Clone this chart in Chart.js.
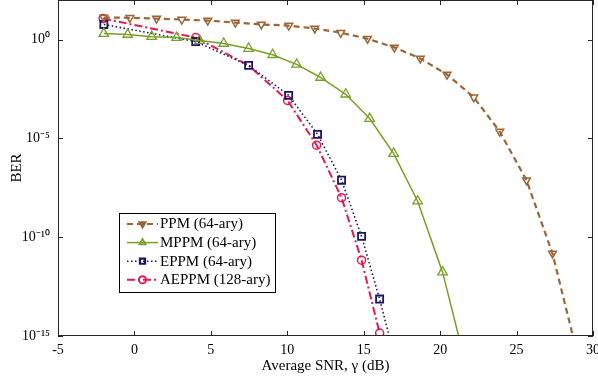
<!DOCTYPE html>
<html><head><meta charset="utf-8">
<script src="https://cdn.jsdelivr.net/npm/chart.js@4/dist/chart.umd.min.js"></script>
<style>html,body{margin:0;padding:0;background:#fff}canvas{display:block}</style>
</head><body>
<canvas id="c" width="598" height="381"></canvas>
<script>
// ---- data ----
const seriesNames = ['PPM (64-ary)', 'MPPM (64-ary)', 'EPPM (64-ary)', 'AEPPM (128-ary)'];

const ppmSNR = [-2, -0.3, 1.45, 3.1, 4.8, 6.6, 8.3, 10.1, 11.8, 13.5, 15.25, 17.0, 18.7, 20.45, 22.2, 23.9, 25.65, 27.35, 29.1];
const ppmBER = [12.9, 12.6, 11.5, 10.2, 9.1, 7.2, 5.8, 5.1, 3.6, 2.2, 1.1, 0.40, 0.11, 1.7e-2, 1.2e-3, 2.2e-5, 7.6e-8, 1.5e-11, 5e-17];

const mppmSNR = [-2, -0.44, 1.13, 2.76, 4.27, 5.84, 7.47, 9.04, 10.61, 12.18, 13.82, 15.39, 16.96, 18.53, 20.16, 21.73];
const mppmBER = [2.0, 1.8, 1.4, 1.26, 0.89, 0.63, 0.35, 0.17, 5.5e-2, 1.2e-2, 1.7e-3, 1.0e-4, 1.7e-6, 6.6e-9, 1.7e-12, 2.5e-17];

const eppmSNR = [-2, 4.01, 7.47, 10.09, 11.98, 13.55, 14.86, 16.04, 17.0];
const eppmBER = [5.8, 0.79, 4.9e-2, 1.5e-3, 1.6e-5, 7.6e-8, 1.1e-10, 7.4e-14, 1e-16];

const aeppmSNR = [-2.05, 4.01, 7.47, 10.02, 11.92, 13.55, 14.86, 16.04];
const aeppmBER = [11.5, 1.26, 4.9e-2, 8.3e-4, 4.5e-6, 1.0e-8, 6.9e-12, 1.4e-15];
const aeppmMarked = [true, true, false, true, true, true, true, true];

const xTickValues = [-5, 0, 5, 10, 15, 20, 25, 30];
const yTickExponents = [0, -5, -10, -15];
const yTickLabels = ['10\u2070', '10\u207B\u2075', '10\u207B\u00B9\u2070', '10\u207B\u00B9\u2075'];

// ---- chart ----
const FONT = "'Liberation Serif', 'Times New Roman', serif";
const zip = (xs, ys) => xs.map((v, i) => ({x: v, y: ys[i]}));

const datasets = [
  {label: seriesNames[0], data: zip(ppmSNR, ppmBER), borderColor: '#9B6536', borderWidth: 2.2, borderDash: [6, 4],
   pointStyle: 'triangle', rotation: 180, pointRadius: 4.5, pointBorderWidth: 1.5},
  {label: seriesNames[1], data: zip(mppmSNR, mppmBER), borderColor: '#76A025', borderWidth: 1.5, borderDash: [],
   pointStyle: 'triangle', rotation: 0, pointRadius: 5.5, pointBorderWidth: 1.3},
  {label: seriesNames[2], data: zip(eppmSNR, eppmBER), borderColor: '#1B1464', borderWidth: 1.6, borderDash: [1.5, 2.5],
   pointStyle: 'rect', rotation: 0, pointRadius: 5, pointBorderWidth: 1.8},
  {label: seriesNames[3], data: zip(aeppmSNR, aeppmBER), borderColor: '#E8174F', borderWidth: 2, borderDash: [8, 3, 2, 3],
   pointStyle: 'circle', rotation: 0, pointRadius: aeppmMarked.map(m => m ? 4 : 0), pointBorderWidth: 1.5}
].map(d => Object.assign(d, {
  backgroundColor: 'rgba(0,0,0,0)', pointBackgroundColor: 'rgba(0,0,0,0)', pointBorderColor: d.borderColor,
  pointRotation: d.rotation, fill: false, tension: 0
}));

const framePlugin = {
  id: 'frame',
  afterDatasetsDraw(chart) {
    const {ctx, chartArea: a, scales: {x, y}} = chart;
    ctx.save();
    ctx.strokeStyle = '#262626';
    ctx.lineWidth = 1;
    ctx.setLineDash([]);
    ctx.strokeRect(a.left + 0.5, a.top + 0.5, a.right - a.left - 1, a.bottom - a.top - 1);
    ctx.beginPath();
    xTickValues.forEach(v => {
      const px = Math.round(x.getPixelForValue(v)) + 0.5;
      ctx.moveTo(px, a.bottom); ctx.lineTo(px, a.bottom - 5);
      ctx.moveTo(px, a.top); ctx.lineTo(px, a.top + 5);
    });
    yTickExponents.forEach(e => {
      const py = Math.round(y.getPixelForValue(Math.pow(10, e))) + 0.5;
      ctx.moveTo(a.left, py); ctx.lineTo(a.left + 5, py);
      ctx.moveTo(a.right, py); ctx.lineTo(a.right - 5, py);
    });
    ctx.stroke();

    // legend
    const bx = 119, by = 213, bw = 156, bh = 79;
    ctx.fillStyle = '#fff';
    ctx.fillRect(bx, by, bw, bh);
    ctx.strokeStyle = '#000';
    ctx.strokeRect(bx + 0.5, by + 0.5, bw, bh);
    chart.data.datasets.forEach((ds, i) => {
      const ry = 224 + i * 18.6;
      ctx.save();
      ctx.strokeStyle = ds.borderColor;
      ctx.lineWidth = ds.borderWidth;
      ctx.setLineDash(ds.borderDash);
      ctx.beginPath(); ctx.moveTo(127, ry); ctx.lineTo(158, ry); ctx.stroke();
      ctx.setLineDash([]);
      ctx.fillStyle = i === 0 ? ds.borderColor : 'rgba(0,0,0,0)';
      ctx.lineWidth = ds.pointBorderWidth + 0.4;
      Chart.helpers.drawPoint(ctx, {pointStyle: ds.pointStyle, rotation: ds.rotation, radius: 3.6, borderWidth: ds.pointBorderWidth + 0.4}, 142.5, ry);
      ctx.restore();
      ctx.fillStyle = '#000';
      ctx.font = '15px ' + FONT;
      ctx.textBaseline = 'middle';
      ctx.textAlign = 'left';
      ctx.fillText(ds.label, 160, ry + 0.5);
    });
    ctx.restore();
  }
};

new Chart(document.getElementById('c'), {
  type: 'line',
  data: {datasets},
  options: {
    responsive: false,
    animation: false,
    devicePixelRatio: 1,
    layout: {autoPadding: false, padding: {left: 0, right: 5, top: -1, bottom: 0}},
    plugins: {legend: {display: false}, tooltip: {enabled: false}},
    elements: {line: {borderCapStyle: 'butt'}},
    scales: {
      x: {
        type: 'linear', min: -5, max: 30,
        afterBuildTicks: s => { s.ticks = xTickValues.map(v => ({value: v})); },
        afterFit: s => { s.height = 45; s.paddingLeft = 0; s.paddingRight = 0; },
        grid: {display: false, drawTicks: false},
        border: {display: false},
        ticks: {padding: 6, color: '#000', font: {family: FONT, size: 14}, maxRotation: 0},
        title: {display: true, text: 'Average SNR, \u03B3 (dB)', color: '#000', font: {family: FONT, size: 15}, padding: {top: 0, bottom: 6}}
      },
      y: {
        type: 'logarithmic', min: 1e-15, max: 1e2,
        afterBuildTicks: s => { s.ticks = yTickExponents.map(e => ({value: Math.pow(10, e)})); },
        afterFit: s => { s.width = 58; s.paddingTop = 0; s.paddingBottom = 0; },
        grid: {display: false, drawTicks: false},
        border: {display: false},
        ticks: {padding: 8, color: '#000', font: {family: FONT, size: 14},
          callback: (v) => { const e = Math.round(Math.log10(v)); const k = yTickExponents.indexOf(e); return k >= 0 ? yTickLabels[k] : ''; }},
        title: {display: true, text: 'BER', color: '#000', font: {family: FONT, size: 15}, padding: {top: 8, bottom: 0}}
      }
    }
  },
  plugins: [framePlugin]
});
</script>
</body></html>
